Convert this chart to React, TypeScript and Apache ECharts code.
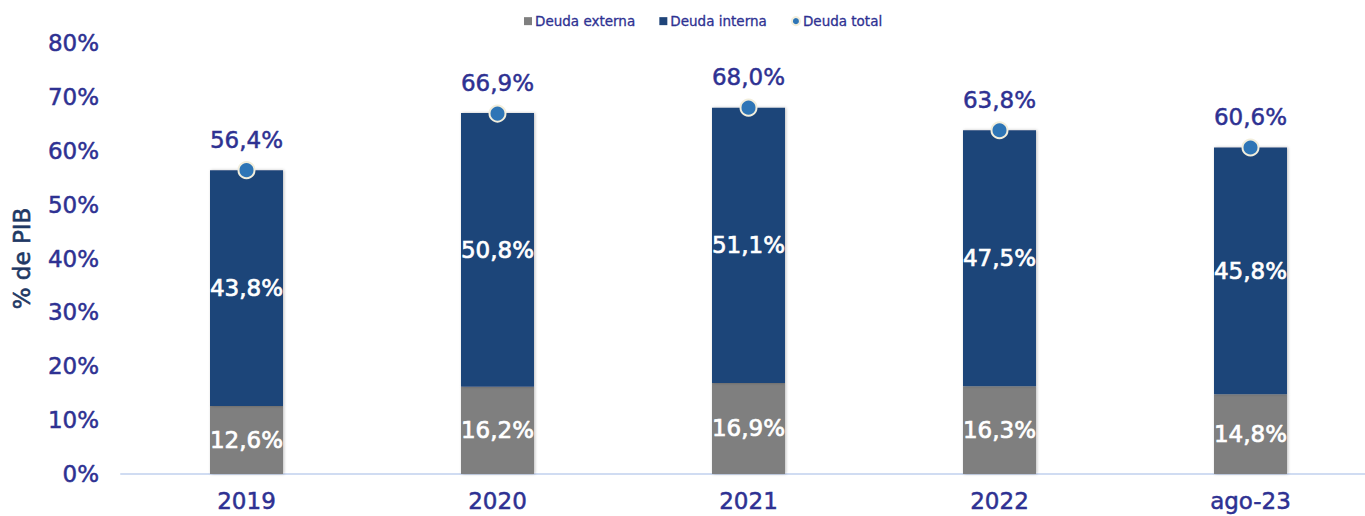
import React, { useEffect, useRef } from "react";
import * as echarts from "echarts";

const categories = ["2019", "2020", "2021", "2022", "ago-23"];
const externa = [12.6, 16.2, 16.9, 16.3, 14.8];
const interna = [43.8, 50.8, 51.1, 47.5, 45.8];
const total = [56.4, 66.9, 68.0, 63.8, 60.6];

const fmt = (v: number) => v.toFixed(1).replace(".", ",") + "%";
const FONT = "DejaVu Sans";
const TXT = "#2e3192";
const FS = 23;

export default function App() {
  const ref = useRef<HTMLDivElement>(null);
  useEffect(() => {
    const chart = echarts.init(ref.current!, undefined, { renderer: "svg" });
    const barLabel = {
      show: true,
      position: "inside",
      color: "#ffffff",
      fontSize: FS,
      fontFamily: FONT,
      textBorderColor: "#ffffff",
      textBorderWidth: 0.7,
      formatter: (p: any) => fmt(p.value),
    };
    chart.setOption({
      animation: false,
      textStyle: { fontFamily: FONT },
      legend: {
        top: 9,
        left: 519,
        itemWidth: 8,
        itemHeight: 8,
        itemGap: 24,
        textStyle: {
          color: TXT,
          fontSize: 13.5,
          fontFamily: FONT,
          padding: [0, 0, 0, -2],
          textBorderColor: TXT,
          textBorderWidth: 0.3,
        },
        data: [
          { name: "Deuda externa", icon: "rect" },
          { name: "Deuda interna", icon: "rect" },
          { name: "Deuda total", icon: "circle" },
        ],
      },
      grid: { left: 121, top: 43, width: 1255, height: 431, outerBoundsMode: "none", containLabel: false },
      xAxis: {
        type: "category",
        data: categories,
        axisLine: { lineStyle: { color: "#d0dcf2", width: 2 } },
        axisTick: { show: false },
        axisLabel: {
          color: TXT,
          fontSize: FS,
          margin: 15,
          fontFamily: FONT,
          textBorderColor: TXT,
          textBorderWidth: 0.5,
        },
      },
      yAxis: {
        type: "value",
        min: 0,
        max: 80,
        interval: 10,
        name: "% de PIB",
        nameLocation: "middle",
        nameGap: 88,
        nameTextStyle: {
          color: "#1f3864",
          fontSize: FS,
          fontFamily: FONT,
          textBorderColor: "#1f3864",
          textBorderWidth: 0.6,
        },
        splitLine: { show: false },
        axisLine: { show: false },
        axisTick: { show: false },
        axisLabel: {
          color: TXT,
          fontSize: FS,
          margin: 22,
          fontFamily: FONT,
          textBorderColor: TXT,
          textBorderWidth: 0.5,
          formatter: (v: number) => v + "%",
        },
      },
      series: [
        {
          name: "Deuda externa",
          type: "bar",
          stack: "d",
          barWidth: 73,
          data: externa,
          itemStyle: {
            color: "#7f7f7f",
            shadowColor: "rgba(0,0,0,0.25)",
            shadowBlur: 3,
            shadowOffsetX: 1,
          },
          label: barLabel,
        },
        {
          name: "Deuda interna",
          type: "bar",
          stack: "d",
          barWidth: 73,
          data: interna,
          itemStyle: {
            color: "#1f4479",
            shadowColor: "rgba(0,0,0,0.25)",
            shadowBlur: 3,
            shadowOffsetX: 1,
          },
          label: barLabel,
        },
        {
          name: "Deuda total",
          type: "scatter",
          data: total,
          symbol: "circle",
          symbolSize: 16,
          z: 5,
          itemStyle: { color: "#2e75b6", borderColor: "#f2eedc", borderWidth: 2, opacity: 1 },
          label: {
            show: true,
            position: "top",
            distance: 10,
            color: TXT,
            fontSize: FS,
            fontFamily: FONT,
            textBorderColor: TXT,
            textBorderWidth: 0.5,
            formatter: (p: any) => fmt(p.value),
          },
        },
      ],
    });
    return () => chart.dispose();
  }, []);
  return (
    <div
      ref={ref}
      style={{ position: "fixed", left: 0, top: 0, width: 1365, height: 516, background: "#fff" }}
    />
  );
}
